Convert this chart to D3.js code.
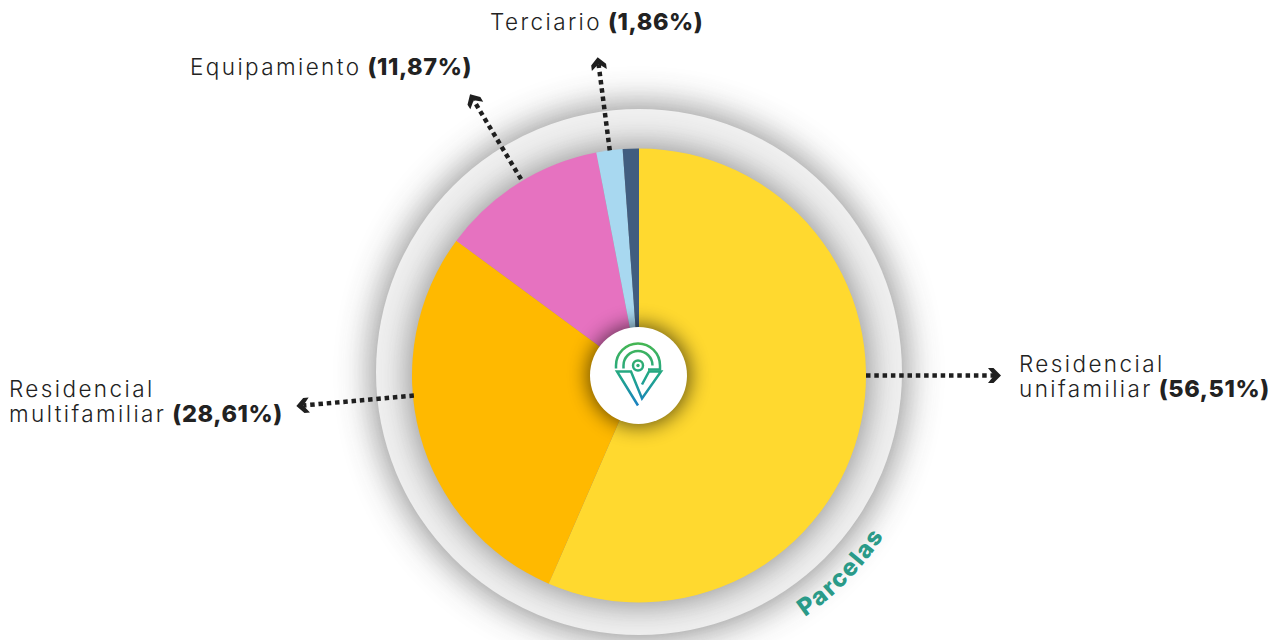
<!DOCTYPE html>
<html><head><meta charset="utf-8">
<script src="https://cdn.jsdelivr.net/npm/d3@7"></script>
<style>html,body{margin:0;background:#fff}svg{display:block}
text{font-family:Inter,Lato,sans-serif;fill:#222}</style></head>
<body><svg id="c" width="1280" height="640"></svg>
<script>
const categories=["Residencial unifamiliar","Residencial multifamiliar","Equipamiento","Terciario","Otros"];
const values=[56.51,28.61,11.87,1.86,1.15];
const colors=["#ffd92f","#ffb900","#e672c0","#a8d8f0","#415d7f"];
const labelLines=[["Residencial","unifamiliar"],["Residencial","multifamiliar"],["Equipamiento"],["Terciario"],[]];
const valueLabels=["(56,51%)","(28,61%)","(11,87%)","(1,86%)",""];
const centerTitle="Parcelas";

const W=1280,H=640,cx=639,cy=375.5,R=227,ringR=263,ringCy=372;
const svg=d3.select("#c"),defs=svg.append("defs");
[["b1",18],["b2",16],["b3",10]].forEach(([id,s])=>defs.append("filter").attr("id",id)
  .attr("x","-30%").attr("y","-30%").attr("width","160%").attr("height","160%")
  .append("feGaussianBlur").attr("stdDeviation",s));
const lg=defs.append("linearGradient").attr("id","lg").attr("gradientUnits","userSpaceOnUse").attr("x1",0).attr("y1",-32).attr("x2",0).attr("y2",31);
lg.append("stop").attr("offset",0).attr("stop-color","#45b653");
lg.append("stop").attr("offset",.55).attr("stop-color","#1fa58c");
lg.append("stop").attr("offset",1).attr("stop-color","#1a7fc4");

// ring and its shadow
svg.append("circle").attr("cx",cx).attr("cy",ringCy).attr("r",ringR+3).attr("fill","#444").attr("opacity",.62).attr("filter","url(#b1)");
svg.append("circle").attr("cx",cx).attr("cy",ringCy).attr("r",ringR).attr("fill","#f0f0f0");
svg.append("circle").attr("cx",cx).attr("cy",cy).attr("r",R+3).attr("fill","#444").attr("opacity",.55).attr("filter","url(#b2)");

const pie=d3.pie().value(d=>d).sort(null);
const arc=d3.arc().innerRadius(0).outerRadius(R);
const arcs=pie(values);
const g=svg.append("g").attr("transform",`translate(${cx},${cy})`);
g.selectAll("path").data(arcs).join("path").attr("d",arc).attr("fill",(d,i)=>colors[i]);

// leaders: [slice, angle from top in degrees, start radius, tip radius]
const leaders=[[0,90,R,362],[1,264.9,R-1,344],[2,-31,R+2,328],[3,-7.4,R,321]];
const pt=(a,r)=>[r*Math.sin(a*Math.PI/180),-r*Math.cos(a*Math.PI/180)];
leaders.forEach(([i,a,r0,r1])=>{
  const [x0,y0]=pt(a,r0),[x1,y1]=pt(a,r1-7);
  g.append("line").attr("x1",x0).attr("y1",y0).attr("x2",x1).attr("y2",y1)
   .attr("stroke","#1f1f1f").attr("stroke-width",4.5).attr("stroke-dasharray","4.5 3.8");
  const [hx,hy]=pt(a,r1-3);
  g.append("path").attr("d","M-10,-7.5 L-4.5,-7.5 L3,0 L-4.5,7.5 L-10,7.5 L-4,0 Z")
   .attr("fill","#1f1f1f").attr("transform",`translate(${hx},${hy}) rotate(${a-90})`);
});

// labels
const labelPos=[[1019,372],[9,397],[190,75],[490,30]];
const ts=22.5,ls=25;
labelPos.forEach(([x,y],i)=>{
  const lines=labelLines[i];
  lines.forEach((t,k)=>{
    const el=svg.append("text").attr("x",x).attr("y",y+k*ls).attr("font-size",ts).attr("letter-spacing",2.4).attr("font-weight",300);
    el.append("tspan").text(t);
    if(k===lines.length-1) el.append("tspan").attr("dx",6).attr("font-size",23.5).attr("font-weight",800).attr("letter-spacing",.6).text(valueLabels[i]);
  });
});

// curved title
const tr=293;
const [sx,sy]=pt(145.5,tr),[ex,ey]=pt(95,tr);
defs.append("path").attr("id","cp").attr("d",`M${cx+sx},${cy+sy} A${tr},${tr} 0 0 0 ${cx+ex},${cy+ey}`);
svg.append("text").attr("font-size",24).attr("font-weight",800).style("fill","#2a9a88").attr("letter-spacing",1.6)
  .append("textPath").attr("href","#cp").text(centerTitle);

// centre badge
svg.append("circle").attr("cx",cx).attr("cy",cy).attr("r",51).attr("fill","#000").attr("opacity",.6).attr("filter","url(#b3)");
svg.append("circle").attr("cx",cx-.5).attr("cy",cy).attr("r",48.5).attr("fill","#fff");
const lo=svg.append("g").attr("transform",`translate(${cx-1},${cy})`).attr("fill","none").attr("stroke-width",2.5).attr("stroke","url(#lg)");
lo.append("path").attr("d","M-22,-7 L-22,-10 A22,22 0 0 1 22,-10 L22,-6 L10,-6");
lo.append("path").attr("d","M-14.5,-7 L-14.5,-10 A14.5,14.5 0 0 1 14.5,-10");
lo.append("circle").attr("cy",-10).attr("r",5);
lo.append("circle").attr("cy",-10).attr("r",1.7).attr("fill","#2fae74").attr("stroke","none");
lo.append("path").attr("d","M0,30 L-21,-4 L-7,-4 L4,23 L23,-4 L11,-4 L4,9");
</script></body></html>
